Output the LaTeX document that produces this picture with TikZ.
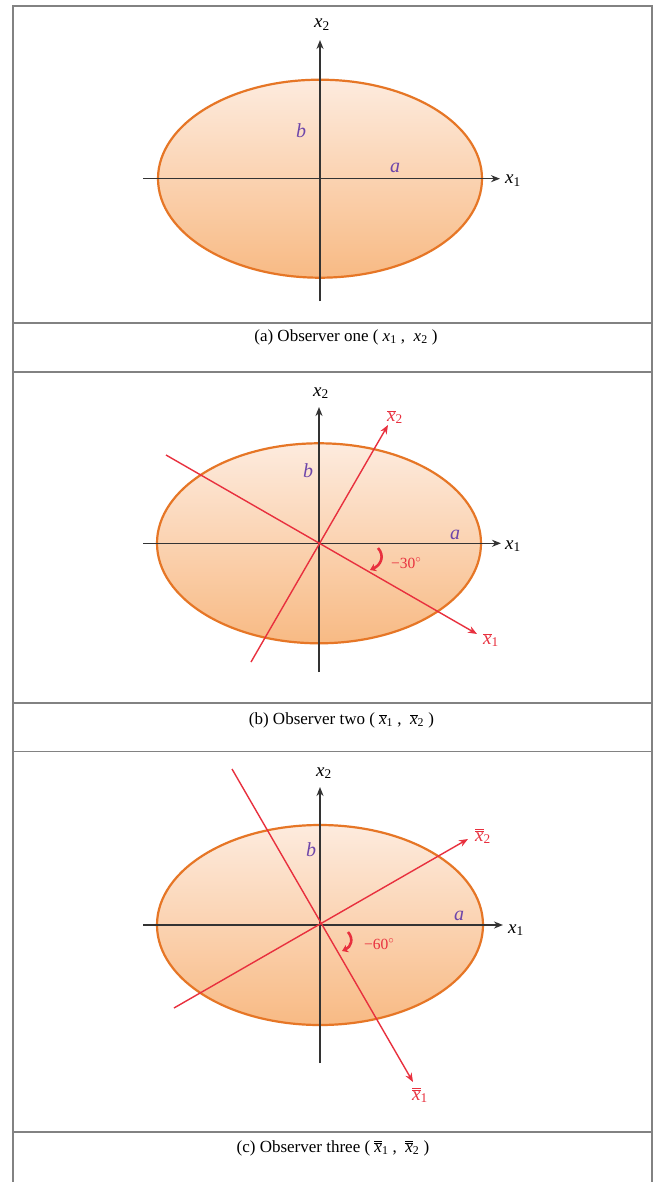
\documentclass[tikz,border=0pt]{standalone}
\usepackage{fontspec}
\setmainfont{Liberation Serif}
\usetikzlibrary{arrows.meta}
\definecolor{ellline}{RGB}{230,118,38}
\definecolor{elltop}{RGB}{253,235,222}
\definecolor{ellbot}{RGB}{248,186,132}
\definecolor{axred}{RGB}{232,48,62}
\definecolor{lblpurple}{RGB}{110,70,170}
\definecolor{framegray}{RGB}{130,130,130}
\newcommand{\vx}[1]{\textit{x}\textsubscript{#1}}
\newcommand{\vxb}[1]{$\overline{\hbox{\textit{x}}}$\textsubscript{#1}}
\newcommand{\vxbb}[1]{$\overline{\overline{\hbox{\textit{x}}}}$\textsubscript{#1}}
\tikzset{
  ell/.style={draw=ellline, line width=2.2pt, top color=elltop, bottom color=ellbot},
  axis/.style={line width=1.5pt, black!80, -{Stealth[length=9pt,width=7pt]}},
  redax/.style={line width=1.4pt, axred, -{Stealth[length=9pt,width=7pt]}},
  hook/.style={line width=2.6pt, axred, -{Stealth[length=6pt,width=8pt]}},
  axlbl/.style={font=\fontsize{19}{19}\selectfont, inner sep=0pt},
  redlbl/.style={axlbl, text=axred},
  ablbl/.style={font=\fontsize{20}{20}\selectfont\itshape, text=lblpurple, inner sep=0pt},
  anglbl/.style={font=\fontsize{15.5}{15.5}\selectfont, text=axred, inner sep=0pt},
  caption/.style={font=\fontsize{17}{17}\selectfont, inner sep=0pt},
  sep/.style={framegray, line width=1.8pt},
}
\begin{document}
\begin{tikzpicture}[x=1pt,y=-1pt]
\useasboundingbox (0,0) rectangle (655,1182);
\fill[white] (0,0) rectangle (655,1182);
% frame
\draw[sep] (13,1182) -- (13,6) -- (652,6) -- (652,1182);
\draw[sep] (13,323) -- (652,323);
\draw[sep] (13,372) -- (652,372);
\draw[sep] (13,703) -- (652,703);
\draw[sep] (13,751.5) -- (652,751.5);
\draw[sep] (13,1132) -- (652,1132);

% ---------- panel a ----------
\coordinate (Oa) at (320,178.7);
\path[ell] (Oa) ellipse [x radius=162pt, y radius=99pt];
\coordinate (ha1) at (143,178.7); \coordinate (ha2) at (500,178.7);
\coordinate (va1) at (320,301);   \coordinate (va2) at (320,40);
\draw[axis] (ha1) -- (ha2);
\draw[axis] (va1) -- (va2);
\node[axlbl, anchor=base west] (x1a) at (505,184) {\vx1};
\node[axlbl, anchor=base] (x2a) at (322,28) {\vx2};
\node[ablbl, anchor=base] (ba) at (301,138) {b};
\node[ablbl, anchor=base] (aa) at (395,173) {a};
\node[caption, anchor=base] (capa) at (346,341) {(a) Observer one ( \vx1 ,\enspace\vx2 )};

% ---------- panel b ----------
\coordinate (Ob) at (319,543.3);
\path[ell] (Ob) ellipse [x radius=162pt, y radius=100pt];
\coordinate (hb1) at (143,543.3); \coordinate (hb2) at (501,543.3);
\coordinate (vb1) at (319,672);   \coordinate (vb2) at (319,407);
\draw[axis] (hb1) -- (hb2);
\draw[axis] (vb1) -- (vb2);
\coordinate (rb1s) at (166,455); \coordinate (rb1e) at (477,634);
\coordinate (rb2s) at (251,662); \coordinate (rb2e) at (388,425);
\draw[redax] (rb1s) -- (rb1e);
\draw[redax] (rb2s) -- (rb2e);
\node[axlbl, anchor=base west] (x1b) at (505,549) {\vx1};
\node[axlbl, anchor=base] (x2b) at (321,396) {\vx2};
\node[redlbl, anchor=base west] (xb1b) at (483,644) {\vxb1};
\node[redlbl, anchor=base west] (xb2b) at (387,421) {\vxb2};
\node[ablbl, anchor=base] (bb) at (308,477) {b};
\node[ablbl, anchor=base] (ab) at (455,539) {a};
\coordinate (hbS) at (378,548); \coordinate (hbE) at (370,570);
\draw[hook] (hbS) .. controls (385,556) and (381,565) .. (hbE);
\node[anglbl, anchor=base west] (angb) at (391,568) {−30$^{\circ}$};
\node[caption, anchor=base] (capb) at (341.5,724) {(b) Observer two ( \vxb1 ,\enspace\vxb2 )};

% ---------- panel c ----------
\coordinate (Oc) at (320,925);
\path[ell] (Oc) ellipse [x radius=163pt, y radius=100pt];
\coordinate (hc1) at (143,925); \coordinate (hc2) at (503,925);
\coordinate (vc1) at (320,1063); \coordinate (vc2) at (320,787);
\draw[axis] (hc1) -- (hc2);
\draw[axis] (vc1) -- (vc2);
\coordinate (rc1s) at (232,769); \coordinate (rc1e) at (413,1082);
\coordinate (rc2s) at (174,1008); \coordinate (rc2e) at (468,839);
\draw[redax] (rc1s) -- (rc1e);
\draw[redax] (rc2s) -- (rc2e);
\node[axlbl, anchor=base west] (x1c) at (508,933) {\vx1};
\node[axlbl, anchor=base] (x2c) at (324,776) {\vx2};
\node[redlbl, anchor=base west] (xb1c) at (412,1100) {\vxbb1};
\node[redlbl, anchor=base west] (xb2c) at (475,841) {\vxbb2};
\node[ablbl, anchor=base] (bc) at (311,856) {b};
\node[ablbl, anchor=base] (ac) at (459,920) {a};
\coordinate (hcS) at (348,932); \coordinate (hcE) at (342,951);
\draw[hook] (hcS) .. controls (354,939) and (351,947) .. (hcE);
\node[anglbl, anchor=base west] (angc) at (364,949) {−60$^{\circ}$};
\node[caption, anchor=base] (capc) at (333,1152) {(c) Observer three ( \vxbb1 ,\enspace\vxbb2 )};
\end{tikzpicture}
\end{document}
